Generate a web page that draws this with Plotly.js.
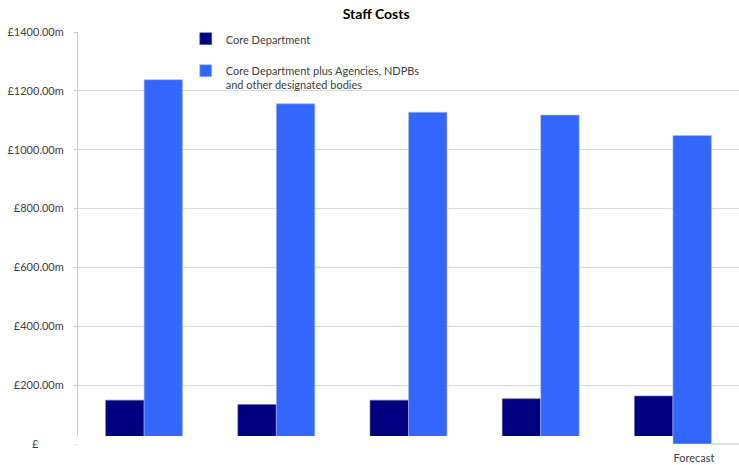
<!DOCTYPE html>
<html>
<head>
<meta charset="utf-8">
<script src="https://cdn.plot.ly/plotly-3.0.1.min.js"></script>
<style>html,body{margin:0;padding:0;background:#fff;}#chart{width:739px;height:465px;}</style>
</head>
<body>
<div id="chart"></div>
<script>
const categories = [0, 1, 2, 3, 4];
const categoryLabels = ["", "", "", "", "Forecast"];
const seriesNames = ["Core Department", "Core Department plus Agencies, NDPBs<br>and other designated bodies"];
const coreDept = [149, 134, 149, 154, 163];
const coreDeptPlus = [1238, 1156, 1127, 1118, 1048];
const yTickVals = [0, 200, 400, 600, 800, 1000, 1200, 1400];
const yTickText = ["£\u00a0\u00a0\u00a0\u00a0\u00a0\u00a0\u00a0\u00a0\u00a0", "£200.00m", "£400.00m", "£600.00m", "£800.00m", "£1000.00m", "£1200.00m", "£1400.00m"];

const FONT = "Lato, 'Open Sans', sans-serif";

const traces = [
  {type: "bar", name: seriesNames[0], x: categories, y: coreDept, legendgroup: "a",
   marker: {color: "#000080", line: {color: "#6d6dbd", width: 0.6}}},
  {type: "bar", name: seriesNames[1], x: categories, y: coreDeptPlus, legendgroup: "b",
   marker: {color: "#3366FF", line: {color: "#a8bfff", width: 0.6}}}
];

const layout = {
  width: 739, height: 465,
  margin: {l: 78, r: 0, t: 32, b: 21, pad: 0},
  paper_bgcolor: "#ffffff", plot_bgcolor: "#ffffff",
  font: {family: FONT, size: 11, color: "#404040"},
  title: {text: "<b>Staff Costs</b>", font: {family: FONT, size: 14, color: "#000"}, x: 0.509, xanchor: "center", y: 0.97, yanchor: "middle"},
  barmode: "group", bargap: 0.418, bargroupgap: 0,
  showlegend: true,
  legend: {x: 0.163, xanchor: "left", y: 1.017, yanchor: "top", bgcolor: "rgba(0,0,0,0)",
           font: {family: FONT, size: 11, color: "#404040"}, traceorder: "grouped", tracegroupgap: 13, valign: "top"},
  xaxis: {type: "linear", range: [-0.5, 4.5], tickvals: categories, ticktext: categoryLabels,
          showgrid: false, zeroline: false, showline: false, ticks: "", ticklabelshift: 21, ticklabelstandoff: 6,
          tickfont: {family: FONT, size: 11, color: "#404040"}, fixedrange: true},
  yaxis: {range: [0, 1400], tickvals: yTickVals, ticktext: yTickText,
          showgrid: true, gridcolor: "#d9d9d9", gridwidth: 1, zeroline: false,
          showline: true, linecolor: "#c8c8c8", linewidth: 1, ticks: "outside", ticklen: 3, tickcolor: "#c8c8c8",
          ticklabelstandoff: 8, tickfont: {family: FONT, size: 11, color: "#404040"}, fixedrange: true},
  shapes: [
    {type: "rect", xref: "paper", yref: "paper", x0: -0.012, x1: 0.9, y0: -0.001, y1: 0.0194, fillcolor: "#ffffff", line: {width: 0}, layer: "above"},
    {type: "line", xref: "paper", yref: "paper", x0: 0.958, x1: 1, y0: 0, y1: 0, line: {color: "#d9d9d9", width: 1.5}, layer: "above"}
  ]
};

Plotly.newPlot("chart", traces, layout, {displayModeBar: false, staticPlot: true});
</script>
</body>
</html>
